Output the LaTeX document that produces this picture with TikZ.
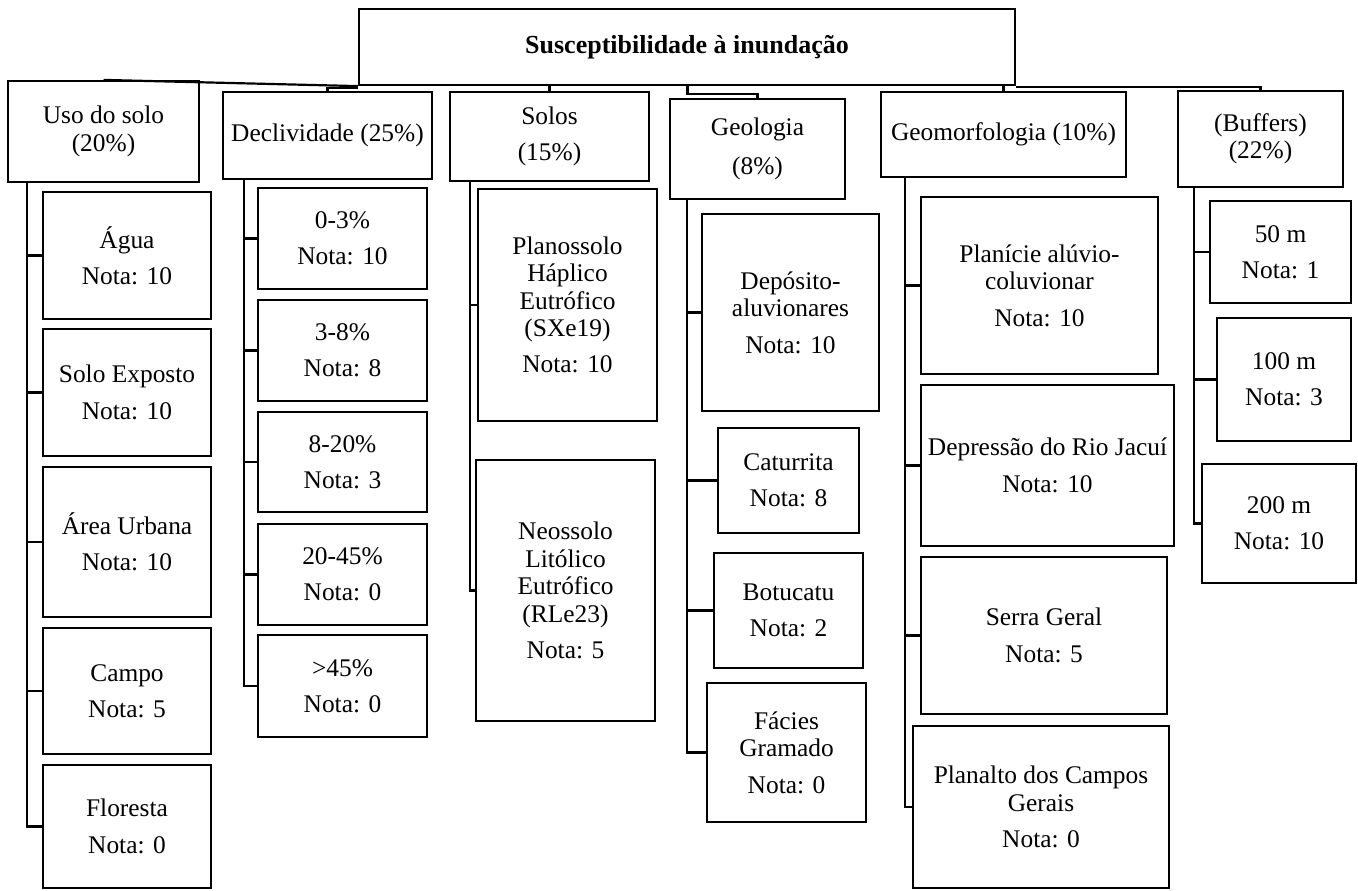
\documentclass[tikz,border=0pt]{standalone}
\usepackage{fontspec}
\setmainfont{Liberation Serif}
\begin{document}
\begin{tikzpicture}[x=0.5pt,y=-0.5pt]
        \tikzset{Box/.style 2 args={%
                shape=rectangle,%
                draw=black,%
                line width=1.1pt,%
                align=center,%
                inner sep=0pt,%
                minimum width=#1,%
                minimum height=#2,%
                font=\fontsize{12.7}{13.7}\selectfont,%
            }}
        \tikzset{Link/.style={-,line width=1.1pt}}
        \useasboundingbox (0,0) rectangle (1358,890);

        % root and criteria
        \node[Box={328pt}{38pt}, font=\bfseries\fontsize{13}{14}\selectfont] (root) at (687,47) {Susceptibilidade à inundação};
        \node[Box={95.5pt}{50.5pt}] (uso) at (103.5,131.5) {Uso do solo\\(20\%)};
        \node[Box={104.5pt}{43.5pt}] (decl) at (327.5,135.5) {Declividade (25\%)};
        \node[Box={99.5pt}{44.5pt}] (solos) at (549.5,136.5) {Solos\\[4.5pt](15\%)};
        \node[Box={87.5pt}{50pt}] (geol) at (757.5,149) {Geologia\\[5.5pt](8\%)};
        \node[Box={122.5pt}{42.5pt}] (geom) at (1003.5,134.5) {Geomorfologia (10\%)};
        \node[Box={82.5pt}{48pt}] (buf) at (1260.5,139) {(Buffers)\\(22\%)};

        % uso do solo
        \node[Box={84pt}{63.5pt}] (agua) at (127,255.5) {Água\\[4.5pt]Nota: 10};
        \node[Box={84pt}{63.5pt}] (exposto) at (127,392.5) {Solo Exposto\\[4.5pt]Nota: 10};
        \node[Box={84pt}{75pt}] (urbana) at (127,542) {Área Urbana\\[4.5pt]Nota: 10};
        \node[Box={84pt}{63pt}] (campo) at (127,691) {Campo\\[4.5pt]Nota: 5};
        \node[Box={84pt}{61.5pt}] (floresta) at (127,826.5) {Floresta\\[4.5pt]Nota: 0};

        % declividade
        \node[Box={84.5pt}{50.5pt}] (d1) at (342.5,238.5) {0-3\%\\[4.5pt]Nota: 10};
        \node[Box={84.5pt}{50.5pt}] (d2) at (342.5,350.5) {3-8\%\\[4.5pt]Nota: 8};
        \node[Box={84.5pt}{50pt}] (d3) at (342.5,462) {8-20\%\\[4.5pt]Nota: 3};
        \node[Box={84.5pt}{50.5pt}] (d4) at (342.5,574.5) {20-45\%\\[4.5pt]Nota: 0};
        \node[Box={84.5pt}{51pt}] (d5) at (342.5,686) {>45\%\\[4.5pt]Nota: 0};

        % solos
        \node[Box={89.5pt}{116pt}] (plano) at (567.5,305) {Planossolo\\Háplico\\Eutrófico\\(SXe19)\\[4.5pt]Nota: 10};
        \node[Box={89.5pt}{130.5pt}] (neo) at (565.5,590.5) {Neossolo\\Litólico\\Eutrófico\\(RLe23)\\[4.5pt]Nota: 5};

        % geologia
        \node[Box={88.5pt}{98.5pt}] (depo) at (790.5,312.5) {Depósito-\\aluvionares\\[4.5pt]Nota: 10};
        \node[Box={70.5pt}{52.5pt}] (catu) at (788.5,480.5) {Caturrita\\[4.5pt]Nota: 8};
        \node[Box={74.5pt}{57.5pt}] (botu) at (788.5,610.5) {Botucatu\\[4.5pt]Nota: 2};
        \node[Box={79.5pt}{69.5pt}] (faci) at (786.5,752.5) {Fácies\\Gramado\\[4.5pt]Nota: 0};

        % geomorfologia
        \node[Box={118.5pt}{88.5pt}] (plani) at (1039.5,285.5) {Planície alúvio-\\coluvionar\\[4.5pt]Nota: 10};
        \node[Box={126.5pt}{80.5pt}] (jacui) at (1047.5,465.5) {Depressão do Rio Jacuí\\[4.5pt]Nota: 10};
        \node[Box={123pt}{78.5pt}] (serra) at (1044,635.5) {Serra Geral\\[4.5pt]Nota: 5};
        \node[Box={128pt}{81pt}] (plana) at (1041,807) {Planalto dos Campos\\Gerais\\[4.5pt]Nota: 0};

        % buffers
        \node[Box={70.5pt}{51pt}] (b50) at (1280.5,252) {50 m\\[4.5pt]Nota: 1};
        \node[Box={67pt}{61.5pt}] (b100) at (1284,379.5) {100 m\\[4.5pt]Nota: 3};
        \node[Box={77pt}{59.5pt}] (b200) at (1279,523.5) {200 m\\[4.5pt]Nota: 10};

        % root links
        \path (uso.north) edge[Link] (root.south west);
        \draw[Link] ([yshift=-1pt]root.south west) -| (decl.north);
        \path (root.south -| solos.north) edge[Link] (solos.north);
        \draw[Link] ([xshift=-35pt]root.south -| geol.north) -- ++(0,8) -| (geol.north);
        \path (root.south -| geom.north) edge[Link] (geom.north);
        \draw[Link] ([yshift=-0.5pt]root.south east) -| (buf.north);

        % branches
        \foreach \c in {agua,exposto,urbana,campo,floresta}
            \draw[Link] ([xshift=10pt]uso.south west) |- (\c.west);
        \foreach \c in {d1,d2,d3,d4,d5}
            \draw[Link] ([xshift=11pt]decl.south west) |- (\c.west);
        \foreach \c in {plano,neo}
            \draw[Link] ([xshift=10.5pt]solos.south west) |- (\c.west);
        \foreach \c in {depo,catu,botu,faci}
            \draw[Link] ([xshift=9pt]geol.south west) |- (\c.west);
        \foreach \c in {plani,jacui,serra,plana}
            \draw[Link] ([xshift=12.5pt]geom.south west) |- (\c.west);
        \foreach \c in {b50,b100,b200}
            \draw[Link] ([xshift=8.5pt]buf.south west) |- (\c.west);
\end{tikzpicture}
\end{document}
